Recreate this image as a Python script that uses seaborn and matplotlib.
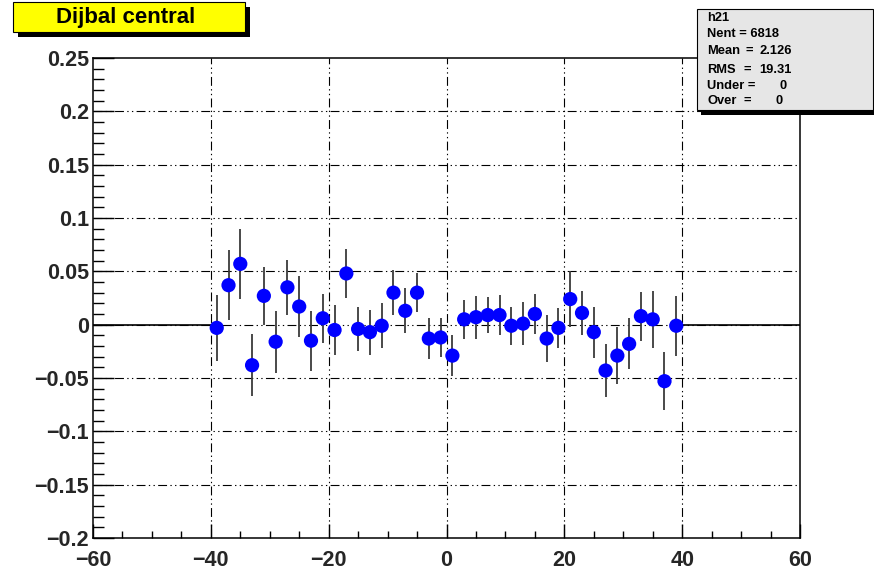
import matplotlib
matplotlib.use("Agg")
import matplotlib.pyplot as plt
from matplotlib.patches import Rectangle
from matplotlib.ticker import MultipleLocator
import numpy as np
import pandas as pd
import seaborn as sns

# ---- data ----
bin_centers = [-39, -37, -35, -33, -31, -29, -27, -25, -23, -21,
               -19, -17, -15, -13, -11, -9, -7, -5, -3, -1,
               1, 3, 5, 7, 9, 11, 13, 15, 17, 19,
               21, 23, 25, 27, 29, 31, 33, 35, 37, 39]
values = [-0.003, 0.037, 0.057, -0.038, 0.027, -0.016, 0.035, 0.017, -0.015, 0.006,
          -0.005, 0.048, -0.004, -0.007, -0.001, 0.030, 0.013, 0.030, -0.013, -0.012,
          -0.029, 0.005, 0.007, 0.009, 0.009, -0.001, 0.001, 0.010, -0.013, -0.003,
          0.024, 0.011, -0.007, -0.043, -0.029, -0.018, 0.008, 0.005, -0.053, -0.001]
errors = [0.031, 0.033, 0.033, 0.029, 0.027, 0.029, 0.026, 0.029, 0.028, 0.023,
          0.023, 0.023, 0.021, 0.021, 0.021, 0.021, 0.021, 0.018, 0.019, 0.018,
          0.019, 0.018, 0.020, 0.017, 0.019, 0.018, 0.020, 0.019, 0.022, 0.019,
          0.026, 0.021, 0.024, 0.025, 0.027, 0.024, 0.023, 0.027, 0.027, 0.028]
empty_ranges = [(-60, -40), (40, 60)]
x_ticks = [-60, -40, -20, 0, 20, 40, 60]
y_ticks = [-0.2, -0.15, -0.1, -0.05, 0, 0.05, 0.1, 0.15, 0.2, 0.25]
y_tick_labels = ["\u22120.2", "\u22120.15", "\u22120.1", "\u22120.05", "0",
                 "0.05", "0.1", "0.15", "0.2", "0.25"]
x_tick_labels = ["\u221260", "\u221240", "\u221220", "0", "20", "40", "60"]
title = "Dijbal central"
stats = {"name": "h21", "Nent": "6818", "Mean": "2.126", "RMS": "19.31",
         "Under": "0", "Over": "0"}

df = pd.DataFrame({"x": bin_centers, "y": values, "err": errors})

sns.set_theme(style="white")
plt.rcParams['font.family'] = ['Liberation Sans', 'DejaVu Sans']
plt.rcParams['font.weight'] = 'bold'

W, H = 874, 571
fig = plt.figure(figsize=(W / 100, H / 100), dpi=100)
ax = fig.add_axes([93 / W, 1 - 538 / H, (800 - 93) / W, (538 - 58) / H])

grid_style = (0, (8, 3, 1.2, 3, 1.2, 3))
ax.set_axisbelow(True)
for xt in x_ticks[1:-1]:
    ax.axvline(xt, color="black", lw=0.8, ls=grid_style, zorder=0)
for yt in y_ticks[1:-1]:
    ax.axhline(yt, color="black", lw=0.8, ls=grid_style, zorder=0)

for (a, b) in empty_ranges:
    ax.plot([a, b], [0, 0], color="black", lw=1.2, zorder=1)

ax.errorbar(df["x"], df["y"], yerr=df["err"], fmt="none", ecolor="#3a3a3a",
            elinewidth=1.3, capsize=0, zorder=2)
sns.scatterplot(data=df, x="x", y="y", ax=ax, color="#0000ff", s=105,
                edgecolor="none", linewidth=0, zorder=3, legend=False)

ax.set_xlim(-60, 60)
ax.set_ylim(-0.2, 0.25)
ax.set_xlabel("")
ax.set_ylabel("")
ax.set_xticks(x_ticks)
ax.set_xticklabels(x_tick_labels)
ax.set_yticks(y_ticks)
ax.set_yticklabels(y_tick_labels)
ax.xaxis.set_minor_locator(MultipleLocator(5))
ax.yaxis.set_minor_locator(MultipleLocator(0.01))
ax.tick_params(axis="x", which="major", direction="in", length=10.4, width=1.0,
               color="black", labelsize=15.5, pad=8.5, bottom=True, top=False)
ax.tick_params(axis="x", which="minor", direction="in", length=5.2, width=1.0,
               color="black", bottom=True, top=False)
ax.tick_params(axis="y", which="major", direction="in", length=15.1, width=1.0,
               color="black", labelsize=15.5, pad=3, left=True, right=False)
ax.tick_params(axis="y", which="minor", direction="in", length=7.6, width=1.0,
               color="black", left=True, right=False)
for lab in ax.get_xticklabels() + ax.get_yticklabels():
    lab.set_fontweight("bold")
for sp in ax.spines.values():
    sp.set_visible(True)
    sp.set_color("black")
    sp.set_linewidth(1.1)


def px_rect(x0, y0, x1, y1, **kw):
    return Rectangle((x0 / W, 1 - y1 / H), (x1 - x0) / W, (y1 - y0) / H,
                     transform=fig.transFigure, **kw)


# title box
fig.patches.append(px_rect(18, 7, 250, 37, facecolor="black", edgecolor="none", zorder=5))
fig.patches.append(px_rect(13, 2, 245, 32, facecolor="#ffff00", edgecolor="black",
                           linewidth=0.8, zorder=6))
fig.text(126 / W, 1 - 18 / H, title, ha="center", va="center", fontsize=16,
         fontweight="bold", color="black", zorder=7)

# stats box
fig.patches.append(px_rect(701, 14, 878, 115, facecolor="black", edgecolor="none", zorder=5))
fig.patches.append(px_rect(697, 9, 873, 110, facecolor="#e6e6e6", edgecolor="black",
                           linewidth=0.8, zorder=6))
fs = 9.3
lx = 707


def st(x, y, s):
    fig.text(x / W, 1 - y / H, s, ha="left", va="center", fontsize=fs,
             fontweight="bold", color="black", zorder=7)


st(lx, 18, stats["name"])
st(lx, 34, "Nent = " + stats["Nent"])
st(lx, 51, "Mean")
st(746, 51, "=")
st(759, 51, stats["Mean"])
st(lx, 70, "RMS")
st(744, 70, "=")
st(759, 70, stats["RMS"])
st(lx, 86, "Under =")
st(780, 86, stats["Under"])
st(lx, 101, "Over")
st(744, 101, "=")
st(775, 101, stats["Over"])

fig.savefig("out.png", dpi=100)
